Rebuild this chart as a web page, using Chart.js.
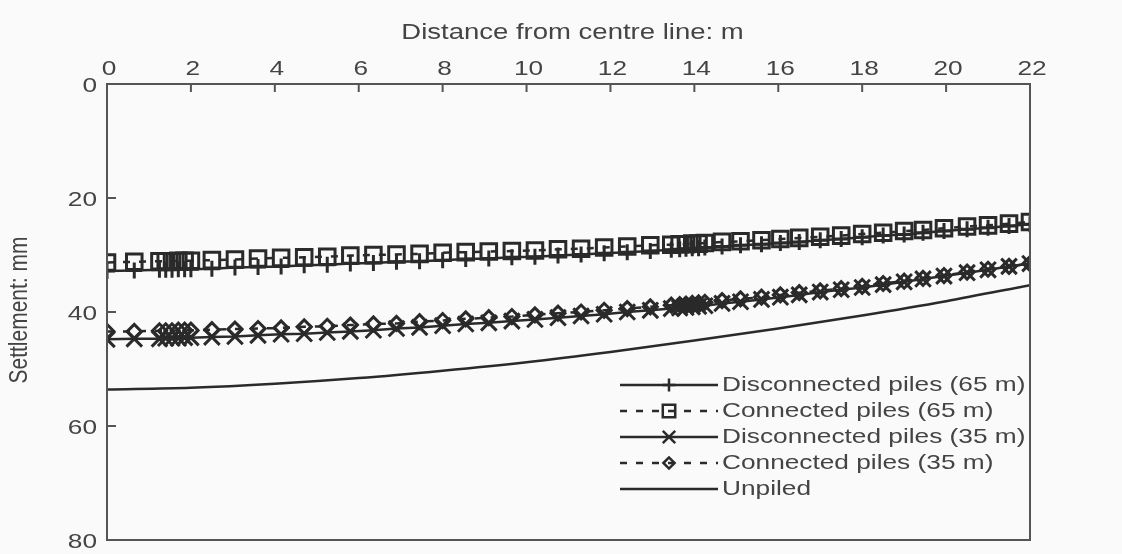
<!DOCTYPE html>
<html>
<head>
<meta charset="utf-8">
<script src="https://cdn.jsdelivr.net/npm/chart.js"></script>
<style>
  html, body { margin: 0; padding: 0; background: #fafafa; }
  canvas { display: block; }
</style>
</head>
<body>
<canvas id="recalque" width="1122" height="554"></canvas>
<script>
// distância do eixo (m) onde os modelos com estacas foram avaliados
const distance = [0, 0.65, 1.25, 1.4, 1.55, 1.7, 1.85, 2.0, 2.5, 3.05, 3.6, 4.15, 4.7, 5.25, 5.8, 6.35,
  6.9, 7.45, 8.0, 8.55, 9.1, 9.65, 10.2, 10.75, 11.3, 11.85, 12.4, 12.95, 13.45, 13.65, 13.8, 13.95,
  14.1, 14.25, 14.66, 15.1, 15.6, 16.05, 16.5, 17.0, 17.5, 18.0, 18.5, 19.0, 19.45, 19.95, 20.5, 21.0, 21.5, 22.0];

// recalques (mm)
const disconnected65 = [32.8, 32.7, 32.6, 32.6, 32.6, 32.5, 32.5, 32.5, 32.4, 32.2, 32.1, 32.0, 31.8, 31.7, 31.5, 31.4,
  31.2, 31.1, 30.9, 30.7, 30.6, 30.4, 30.3, 30.1, 29.9, 29.7, 29.5, 29.3, 29.1, 29.0, 28.9, 28.8,
  28.8, 28.7, 28.5, 28.3, 28.1, 27.9, 27.7, 27.4, 27.2, 26.9, 26.6, 26.4, 26.1, 25.8, 25.5, 25.2, 24.9, 24.6];
const connected65 = [31.3, 31.2, 31.1, 31.1, 31.1, 31.0, 31.0, 31.0, 30.9, 30.8, 30.6, 30.5, 30.4, 30.3, 30.1, 30.0,
  29.9, 29.8, 29.6, 29.5, 29.4, 29.3, 29.2, 29.0, 28.9, 28.7, 28.5, 28.3, 28.2, 28.1, 28.1, 28.0,
  28.0, 27.9, 27.7, 27.6, 27.4, 27.2, 27.0, 26.8, 26.6, 26.3, 26.1, 25.8, 25.6, 25.3, 25.0, 24.8, 24.5, 24.2];
const disconnected35 = [44.8, 44.7, 44.7, 44.6, 44.6, 44.6, 44.5, 44.5, 44.4, 44.3, 44.1, 43.9, 43.8, 43.6, 43.4, 43.2,
  42.9, 42.7, 42.4, 42.1, 41.9, 41.6, 41.3, 41.0, 40.7, 40.4, 40.0, 39.7, 39.4, 39.3, 39.2, 39.1,
  39.0, 38.9, 38.5, 38.2, 37.8, 37.4, 37.0, 36.5, 36.1, 35.7, 35.2, 34.7, 34.2, 33.7, 33.1, 32.6, 32.0, 31.5];
const connected35 = [43.4, 43.4, 43.3, 43.3, 43.3, 43.2, 43.2, 43.2, 43.1, 43.0, 42.9, 42.8, 42.6, 42.5, 42.3, 42.1,
  42.0, 41.7, 41.5, 41.2, 41.0, 40.8, 40.5, 40.2, 40.0, 39.7, 39.4, 39.1, 38.8, 38.7, 38.6, 38.5,
  38.4, 38.3, 38.0, 37.7, 37.4, 37.0, 36.6, 36.3, 35.9, 35.5, 35.0, 34.6, 34.1, 33.6, 33.0, 32.5, 32.0, 31.5];

// terreno sem estacas
const unpiledDistance = [0, 2, 4, 6, 8, 10, 12, 14, 16, 18, 20, 22];
const unpiled = [53.6, 53.3, 52.6, 51.6, 50.3, 48.8, 47.0, 45.0, 42.9, 40.6, 38.1, 35.3];

const seriesNames = ['Disconnected piles (65 m)', 'Connected piles (65 m)', 'Disconnected piles (35 m)',
  'Connected piles (35 m)', 'Unpiled'];
const xTitle = 'Distance from centre line: m';
const yTitle = 'Settlement: mm';

const INK = '#2a2a2a';
const AXIS = '#555';
const TEXT = '#444';
const FONT = '21px "Liberation Sans", Arial, sans-serif';
const TITLE_FONT = '22px "Liberation Sans", Arial, sans-serif';
const TEXT_STRETCH = 1.25;

function pares(xs, ys) {
  return xs.map((x, i) => ({ x: x, y: ys[i] }));
}

function serie(label, ys, estilo, raio, tracejado) {
  return {
    label: label,
    data: pares(distance, ys),
    borderColor: INK,
    backgroundColor: 'rgba(0,0,0,0)',
    borderWidth: 2.5,
    borderDash: tracejado ? [7, 9] : [],
    pointStyle: estilo,
    pointRadius: raio,
    pointBorderColor: INK,
    pointBackgroundColor: 'rgba(0,0,0,0)',
    pointBorderWidth: 3,
    tension: 0
  };
}

// texto esticado na horizontal
function textoLargo(ctx, texto, x, y, align, rot) {
  ctx.save();
  ctx.translate(x, y);
  ctx.scale(TEXT_STRETCH, 1);
  if (rot) ctx.rotate(rot);
  ctx.textAlign = align;
  ctx.textBaseline = 'middle';
  ctx.fillText(texto, 0, 0);
  ctx.restore();
}

const moldura = {
  id: 'moldura',
  afterDraw(chart) {
    const ctx = chart.ctx;
    const a = chart.chartArea;
    const xs = chart.scales.x;
    const ys = chart.scales.y;
    ctx.save();
    ctx.strokeStyle = AXIS;
    ctx.lineWidth = 2;
    ctx.strokeRect(a.left, a.top, a.right - a.left, a.bottom - a.top);
    ctx.beginPath();
    xs.ticks.forEach(t => {
      const px = xs.getPixelForValue(t.value);
      ctx.moveTo(px, a.top);
      ctx.lineTo(px, a.top + 8);
    });
    ys.ticks.forEach(t => {
      const py = ys.getPixelForValue(t.value);
      ctx.moveTo(a.left, py);
      ctx.lineTo(a.left + 9, py);
    });
    ctx.stroke();

    ctx.fillStyle = TEXT;
    ctx.font = FONT;
    xs.ticks.forEach(t => {
      textoLargo(ctx, String(t.value), xs.getPixelForValue(t.value) + 2, a.top - 15, 'center');
    });
    ys.ticks.forEach(t => {
      textoLargo(ctx, String(t.value), a.left - 10, ys.getPixelForValue(t.value) + 2, 'right');
    });
    textoLargo(ctx, yTitle, 20, (a.top + a.bottom) / 2 - 2, 'center', -Math.PI / 2);
    ctx.font = TITLE_FONT;
    textoLargo(ctx, xTitle, (a.left + a.right) / 2 + 4, 33, 'center');

    // legenda dentro da área do gráfico
    ctx.font = FONT;
    const x0 = a.left + 513;
    const x1 = x0 + 98;
    chart.data.datasets.forEach((ds, i) => {
      const y = a.top + 301 + i * 26;
      ctx.strokeStyle = ds.borderColor;
      ctx.lineWidth = ds.borderWidth;
      ctx.setLineDash(ds.borderDash || []);
      ctx.beginPath();
      ctx.moveTo(x0, y);
      ctx.lineTo(x1, y);
      ctx.stroke();
      ctx.setLineDash([]);
      if (ds.pointRadius > 0 && Chart.helpers && Chart.helpers.drawPoint) {
        ctx.fillStyle = 'rgba(0,0,0,0)';
        ctx.strokeStyle = ds.pointBorderColor;
        ctx.lineWidth = 2.5;
        Chart.helpers.drawPoint(ctx, {
          pointStyle: ds.pointStyle,
          radius: ds.pointRadius * 0.8,
          rotation: 0,
          borderWidth: 2.5
        }, (x0 + x1) / 2, y);
      }
      ctx.fillStyle = TEXT;
      textoLargo(ctx, ds.label, x1 + 4, y, 'left');
    });
    ctx.restore();
  }
};

function montarGrafico() {
  const ctx = document.getElementById('recalque');
  new Chart(ctx, {
    type: 'line',
    data: {
      datasets: [
        serie(seriesNames[0], disconnected65, 'cross', 8, false),
        serie(seriesNames[1], connected65, 'rect', 11, true),
        serie(seriesNames[2], disconnected35, 'crossRot', 11, false),
        serie(seriesNames[3], connected35, 'rectRot', 7, true),
        {
          label: seriesNames[4],
          data: pares(unpiledDistance, unpiled),
          borderColor: INK,
          borderWidth: 2.5,
          pointRadius: 0,
          cubicInterpolationMode: 'monotone'
        }
      ]
    },
    options: {
      responsive: false,
      animation: false,
      events: [],
      layout: { padding: { left: 0, top: 0, right: 92, bottom: 10 } },
      scales: {
        x: {
          type: 'linear',
          position: 'top',
          min: 0,
          max: 22,
          ticks: { stepSize: 2, display: false },
          grid: { display: false },
          border: { display: false },
          afterFit(s) { s.height = 84; }
        },
        y: {
          type: 'linear',
          reverse: true,
          min: 0,
          max: 80,
          ticks: { stepSize: 20, display: false },
          grid: { display: false },
          border: { display: false },
          afterFit(s) { s.width = 107; }
        }
      },
      plugins: {
        legend: { display: false },
        tooltip: { enabled: false }
      }
    },
    plugins: [moldura]
  });
}

document.addEventListener('DOMContentLoaded', function(){
  montarGrafico();
});
</script>
</body>
</html>
